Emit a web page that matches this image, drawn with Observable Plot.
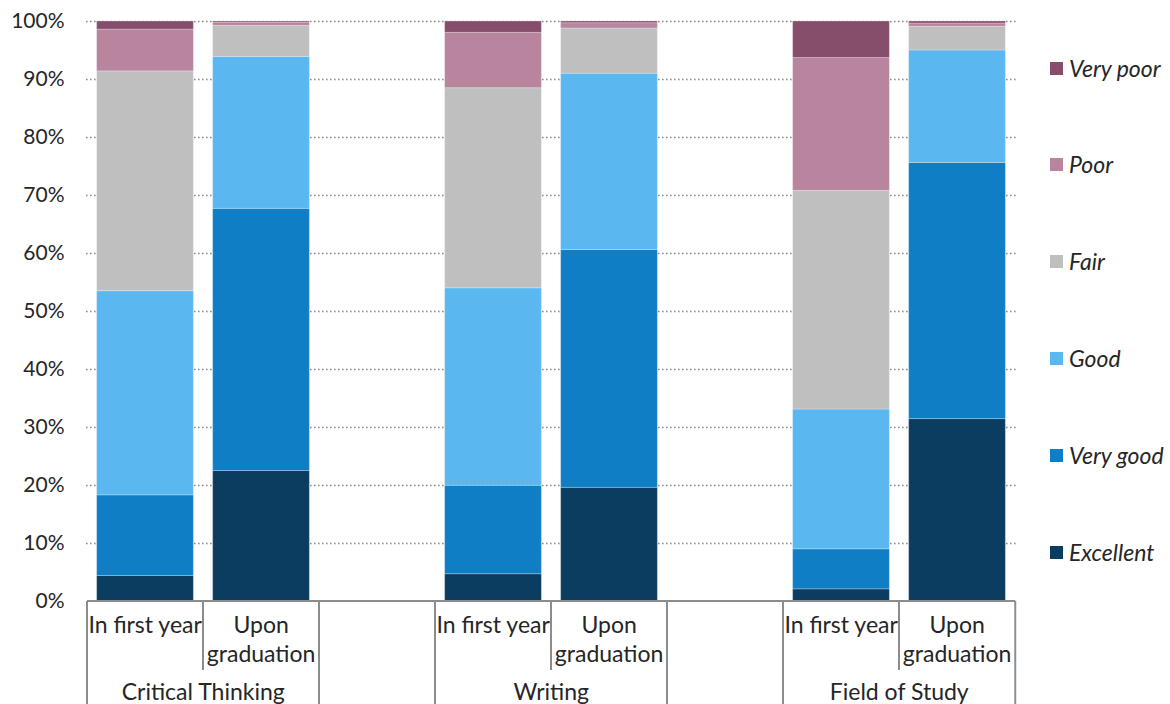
<!DOCTYPE html>
<html>
<head>
<meta charset="utf-8">
<script src="https://cdn.jsdelivr.net/npm/d3@7"></script>
<script src="https://cdn.jsdelivr.net/npm/@observablehq/plot@0.6"></script>
<style>
  body { margin: 0; background: #fff; }
  #wrap { position: relative; width: 1170px; height: 704px; font-family: Lato, "Open Sans", sans-serif; }
  #legend { position: absolute; left: 1050px; top: 0; }
  .item { position: absolute; left: 0; display: flex; align-items: center; white-space: nowrap; font-style: italic; font-size: 23px; color: #262626; }
  .sw { width: 13px; height: 13px; margin-right: 6px; }
</style>
</head>
<body>
<div id="wrap"><div id="legend"></div></div>
<script>
// ---- data ----
const ratings = ["Excellent", "Very good", "Good", "Fair", "Poor", "Very poor"];
const ratingColors = ["#0b3d61", "#0f7ec4", "#5ab7f0", "#bfbfbf", "#b8849e", "#874e6c"];
const subjects = ["Critical Thinking", "Writing", "Field of Study"];
const timepoints = ["In first year", "Upon graduation"];
// values per rating, bars in order: CT first, CT grad, W first, W grad, FoS first, FoS grad (percent)
const excellent = [4.4, 22.5, 4.7, 19.6, 2.1, 31.45];
const veryGood  = [13.9, 45.2, 15.25, 41.0, 6.9, 44.15];
const good      = [35.2, 26.2, 34.05, 30.4, 24.1, 19.4];
const fair      = [37.9, 5.35, 34.5, 7.8, 37.7, 4.1];
const poor      = [7.2, 0.55, 9.55, 0.9, 22.9, 0.55];
const veryPoor  = [1.4, 0.2, 1.95, 0.3, 6.3, 0.35];
const yTicks = [0, 10, 20, 30, 40, 50, 60, 70, 80, 90, 100];

// ---- build table ----
const seriesVals = [excellent, veryGood, good, fair, poor, veryPoor];
const barKeys = [];
subjects.forEach(s => timepoints.forEach(t => barKeys.push(s + "|" + t)));
// x domain includes empty slots between groups
const xDomain = [];
subjects.forEach((s, i) => {
  timepoints.forEach(t => xDomain.push(s + "|" + t));
  if (i < subjects.length - 1) xDomain.push("gap" + i);
});
const data = [];
ratings.forEach((r, ri) => {
  barKeys.forEach((k, bi) => data.push({key: k, rating: r, value: seriesVals[ri][bi]}));
});

const W = 1170, H = 704, ML = 86, MR = 154, MT = 21, MB = 103;
const step = (W - ML - MR) / xDomain.length;
const inset = (step - 97) / 2;
const font = 'Lato, "Open Sans", sans-serif';

function axisMark(index, scales) {
  const x = scales.x, y = scales.y;
  const y0 = y(0);
  const g = d3.create("svg:g").attr("font-family", font).attr("fill", "#262626");
  const lineColor = "#8c8c8c";
  const left = x(xDomain[0]);
  const right = x(xDomain[xDomain.length - 1]) + step;
  g.append("line").attr("x1", left).attr("x2", right).attr("y1", y0).attr("y2", y0)
    .attr("stroke", lineColor).attr("stroke-width", 2);
  // boundaries
  for (let i = 0; i <= xDomain.length; i++) {
    const xx = i < xDomain.length ? x(xDomain[i]) : right;
    const prev = xDomain[i - 1] || "", next = xDomain[i] || "";
    const inner = prev.includes("|") && next.includes("|") && prev.split("|")[0] === next.split("|")[0];
    g.append("line").attr("x1", xx).attr("x2", xx).attr("y1", y0).attr("y2", inner ? 670 : H)
      .attr("stroke", lineColor).attr("stroke-width", 2);
  }
  // inner labels
  barKeys.forEach(k => {
    const t = k.split("|")[1];
    const cx = x(k) + step / 2;
    const lines = t === "Upon graduation" ? ["Upon", "graduation"] : [t];
    lines.forEach((ln, li) => {
      g.append("text").attr("x", cx).attr("y", 625 + li * 29).attr("dy", "0.35em")
        .attr("text-anchor", "middle").attr("font-size", 23).text(ln);
    });
  });
  // group labels
  subjects.forEach(s => {
    const cx = x(s + "|" + timepoints[0]) + step;
    g.append("text").attr("x", cx).attr("y", 692).attr("dy", "0.35em")
      .attr("text-anchor", "middle").attr("font-size", 23).text(s);
  });
  return g.node();
}

const chart = Plot.plot({
  width: W, height: H,
  marginLeft: ML, marginRight: MR, marginTop: MT, marginBottom: MB,
  style: {fontFamily: font, fontSize: "21px", color: "#262626", background: "transparent", overflow: "visible"},
  x: {domain: xDomain, padding: 0, axis: null},
  y: {domain: [0, 100], axis: null},
  color: {domain: ratings, range: ratingColors},
  marks: [
    Plot.ruleY(yTicks.filter(v => v > 0), {stroke: "#8c8c8c", strokeWidth: 1.6, strokeDasharray: "1.6,2.4"}),
    Plot.barY(data, {x: "key", y: "value", fill: "rating", order: ratings, insetLeft: inset, insetRight: inset, stroke: "#ffffff", strokeOpacity: 0.25, strokeWidth: 1}),
    Plot.axisY({ticks: yTicks, tickSize: 0, tickPadding: 22, tickFormat: d => d + "%", label: null, fontSize: 21, fill: "#262626"}),
    axisMark
  ]
});
document.getElementById("wrap").prepend(chart);

// legend (top entry = last rating)
const legend = document.getElementById("legend");
const legendY = [68, 164, 261, 358, 455, 552];
ratings.slice().reverse().forEach((r, i) => {
  const d = document.createElement("div");
  d.className = "item";
  d.style.top = (legendY[i] - 14) + "px";
  d.style.height = "28px";
  const sw = document.createElement("span");
  sw.className = "sw";
  sw.style.background = ratingColors[ratings.indexOf(r)];
  const tx = document.createElement("span");
  tx.textContent = r;
  d.appendChild(sw); d.appendChild(tx);
  legend.appendChild(d);
});
</script>
</body>
</html>
